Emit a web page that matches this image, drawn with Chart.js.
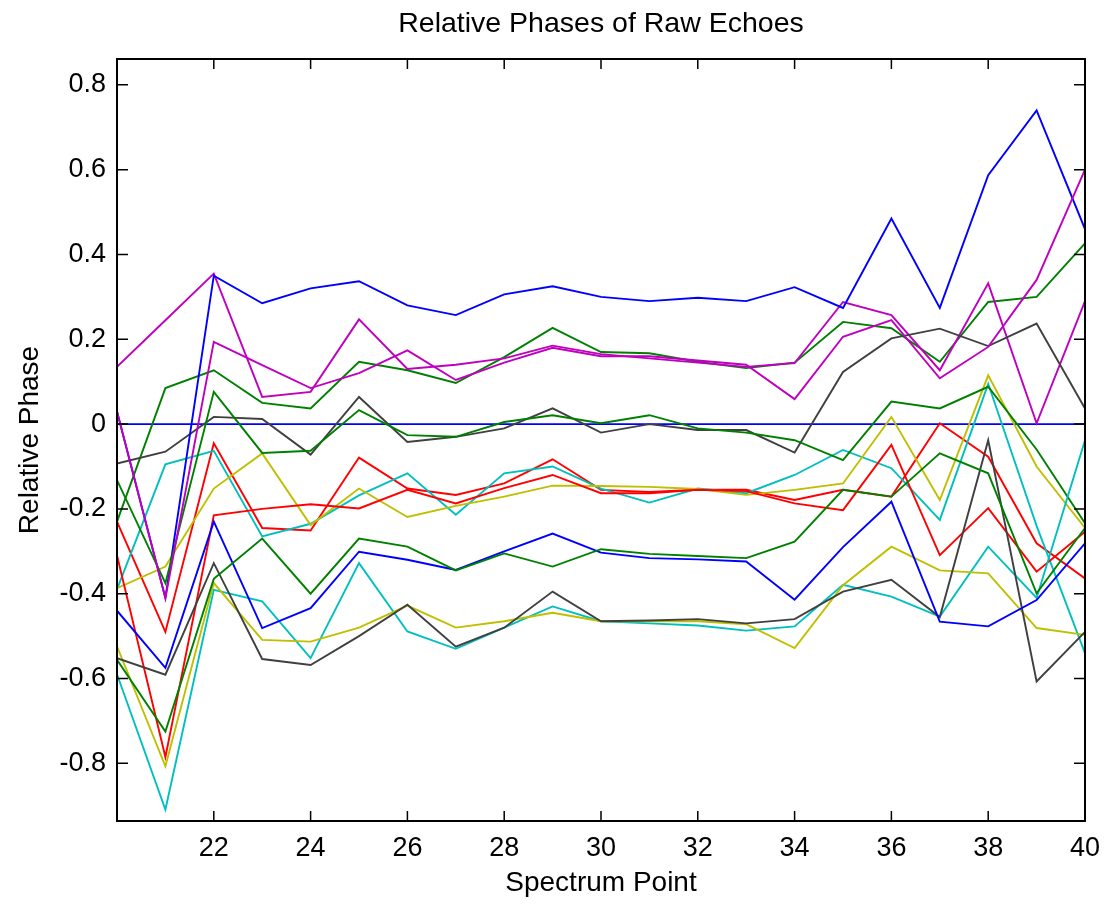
<!DOCTYPE html>
<html>
<head>
<meta charset="utf-8">
<title>Relative Phases of Raw Echoes</title>
<script src="https://cdn.jsdelivr.net/npm/chart.js@4/dist/chart.umd.min.js"></script>
<style>
  html, body { margin: 0; padding: 0; background: #fff; }
</style>
</head>
<body>
<canvas id="phaseChart" width="1105" height="905"></canvas>
<script>
// spectrum points on the x axis
const spectrumPoints = [20, 21, 22, 23, 24, 25, 26, 27, 28, 29, 30, 31, 32, 33, 34, 35, 36, 37, 38, 39, 40];
const xTicks = [22, 24, 26, 28, 30, 32, 34, 36, 38, 40];
const yTicks = [-0.8, -0.6, -0.4, -0.2, 0, 0.2, 0.4, 0.6, 0.8];

// relative phase of each echo
const refZero  = [0, 0, 0, 0, 0, 0, 0, 0, 0, 0, 0, 0, 0, 0, 0, 0, 0, 0, 0, 0, 0];
const blueTop  = [0.03, -0.41, 0.35, 0.285, 0.32, 0.337, 0.28, 0.257, 0.306, 0.325, 0.30, 0.29, 0.298, 0.29, 0.323, 0.274, 0.485, 0.274, 0.587, 0.74, 0.46];
const greenTop = [-0.23, 0.085, 0.127, 0.05, 0.037, 0.147, 0.127, 0.097, 0.158, 0.227, 0.17, 0.167, 0.147, 0.132, 0.145, 0.241, 0.226, 0.147, 0.288, 0.30, 0.426];
const redA     = [-0.23, -0.49, -0.045, -0.245, -0.251, -0.079, -0.152, -0.167, -0.14, -0.083, -0.155, -0.16, -0.155, -0.155, -0.179, -0.155, -0.171, 0.002, -0.077, -0.281, -0.364];
const cyanA    = [-0.39, -0.095, -0.063, -0.265, -0.235, -0.168, -0.116, -0.214, -0.116, -0.1, -0.152, -0.185, -0.152, -0.163, -0.12, -0.061, -0.104, -0.226, 0.095, -0.24, -0.54];
const magentaA = [0.135, 0.245, 0.355, 0.064, 0.076, 0.247, 0.13, 0.14, 0.155, 0.185, 0.165, 0.155, 0.145, 0.135, 0.144, 0.288, 0.257, 0.127, 0.332, 0.002, 0.29];
const yellowA  = [-0.387, -0.336, -0.152, -0.069, -0.238, -0.152, -0.219, -0.193, -0.171, -0.145, -0.146, -0.148, -0.153, -0.167, -0.155, -0.14, 0.017, -0.179, 0.115, -0.1, -0.245];
const grayA    = [-0.093, -0.065, 0.017, 0.012, -0.072, 0.064, -0.042, -0.03, -0.01, 0.037, -0.02, 0.0, -0.014, -0.014, -0.067, 0.123, 0.202, 0.225, 0.184, 0.237, 0.037];
const blueMid  = [-0.44, -0.575, -0.23, -0.481, -0.434, -0.301, -0.32, -0.344, -0.30, -0.258, -0.303, -0.316, -0.319, -0.324, -0.414, -0.29, -0.183, -0.466, -0.477, -0.415, -0.281];
const greenMid = [-0.132, -0.375, 0.076, -0.068, -0.063, 0.033, -0.026, -0.03, 0.005, 0.021, 0.002, 0.021, -0.01, -0.02, -0.038, -0.085, 0.053, 0.037, 0.088, -0.06, -0.234];
const redB     = [-0.31, -0.785, -0.215, -0.2, -0.189, -0.199, -0.155, -0.187, -0.151, -0.12, -0.163, -0.163, -0.155, -0.158, -0.187, -0.203, -0.049, -0.309, -0.198, -0.348, -0.254];
const cyanB    = [-0.59, -0.909, -0.391, -0.418, -0.552, -0.328, -0.489, -0.53, -0.48, -0.43, -0.465, -0.47, -0.475, -0.487, -0.477, -0.379, -0.407, -0.454, -0.289, -0.41, -0.038];
const magentaB = [0.03, -0.41, 0.194, 0.139, 0.085, 0.12, 0.174, 0.104, 0.145, 0.18, 0.16, 0.16, 0.15, 0.14, 0.059, 0.206, 0.245, 0.108, 0.182, 0.34, 0.60];
const yellowB  = [-0.524, -0.807, -0.375, -0.509, -0.513, -0.48, -0.428, -0.48, -0.465, -0.445, -0.465, -0.465, -0.465, -0.472, -0.528, -0.38, -0.289, -0.345, -0.352, -0.481, -0.497];
const grayB    = [-0.552, -0.591, -0.328, -0.554, -0.568, -0.5, -0.426, -0.525, -0.48, -0.395, -0.465, -0.463, -0.46, -0.47, -0.46, -0.395, -0.367, -0.455, -0.038, -0.607, -0.49];
const greenLow = [-0.556, -0.725, -0.365, -0.27, -0.40, -0.27, -0.289, -0.345, -0.305, -0.336, -0.295, -0.306, -0.311, -0.316, -0.277, -0.155, -0.171, -0.069, -0.116, -0.399, -0.245];

// matlab style colour order
const BLUE = '#0000ff', GREEN = '#008000', RED = '#ff0000', CYAN = '#00bfbf',
      MAGENTA = '#bf00bf', YELLOW = '#bfbf00', GRAY = '#404040';

const series = [
    [refZero, BLUE], [greenTop, GREEN], [redA, RED], [cyanA, CYAN], [magentaA, MAGENTA],
    [yellowA, YELLOW], [grayA, GRAY], [blueTop, BLUE], [greenMid, GREEN], [redB, RED],
    [cyanB, CYAN], [magentaB, MAGENTA], [yellowB, YELLOW], [grayB, GRAY], [blueMid, BLUE],
    [greenLow, GREEN]
];

const FAMILY = '"Liberation Sans", Arial, sans-serif';
const TICK_FONT = { family: FAMILY, size: 27 };
const LABEL_FONT = { family: FAMILY, size: 28 };

// inward tick marks on all four sides plus the box
const insideTicks = {
    id: 'insideTicks',
    afterDatasetsDraw(chart) {
        const { ctx, chartArea: a, scales: { x, y } } = chart;
        ctx.save();
        ctx.strokeStyle = '#000';
        ctx.lineWidth = 1.5;
        ctx.beginPath();
        xTicks.forEach(v => {
            const px = x.getPixelForValue(v);
            ctx.moveTo(px, a.bottom); ctx.lineTo(px, a.bottom - 10);
            ctx.moveTo(px, a.top); ctx.lineTo(px, a.top + 10);
        });
        yTicks.forEach(v => {
            const py = y.getPixelForValue(v);
            ctx.moveTo(a.left, py); ctx.lineTo(a.left + 11, py);
            ctx.moveTo(a.right, py); ctx.lineTo(a.right - 11, py);
        });
        ctx.stroke();
        ctx.lineWidth = 2;
        ctx.strokeRect(a.left, a.top, a.right - a.left, a.bottom - a.top);
        ctx.restore();
    }
};

new Chart(document.getElementById('phaseChart'), {
    type: 'line',
    data: {
        datasets: series.map(([vals, color], i) => ({
            data: vals.map((v, j) => ({ x: spectrumPoints[j], y: v })),
            borderColor: color,
            borderWidth: 1.9,
            pointRadius: 0,
            tension: 0,
            fill: false,
            order: series.length - i
        }))
    },
    options: {
        responsive: false,
        animation: false,
        layout: { padding: { left: 0, right: 20, top: 0, bottom: 0 } },
        plugins: {
            legend: { display: false },
            tooltip: { enabled: false },
            title: {
                display: true,
                text: 'Relative Phases of Raw Echoes',
                color: '#000',
                fullSize: false,
                font: { family: FAMILY, size: 28.5, weight: 'normal' },
                padding: { top: 7.4, bottom: 17.4 }
            }
        },
        scales: {
            x: {
                type: 'linear',
                min: 20,
                max: 40,
                afterBuildTicks: s => { s.ticks = xTicks.map(v => ({ value: v })); },
                afterFit: s => { s.height = 84; s.paddingLeft = 0; s.paddingRight = 20; },
                grid: { display: false, drawTicks: false },
                border: { display: false },
                ticks: { color: '#000', font: TICK_FONT, padding: 11, maxRotation: 0 },
                title: {
                    display: true, text: 'Spectrum Point', color: '#000', font: LABEL_FONT,
                    padding: { top: 0, bottom: 5.2 }
                }
            },
            y: {
                type: 'linear',
                min: -0.936,
                max: 0.861,
                afterBuildTicks: s => { s.ticks = yTicks.map(v => ({ value: v })); },
                afterFit: s => { s.width = 117; },
                grid: { display: false, drawTicks: false },
                border: { display: false },
                ticks: {
                    color: '#000', font: TICK_FONT, padding: 11,
                    callback: v => String(Number(v.toFixed(1)))
                },
                title: {
                    display: true, text: 'Relative Phase', color: '#000', font: LABEL_FONT,
                    padding: { top: 13.2, bottom: 0 }
                }
            }
        }
    },
    plugins: [insideTicks]
});
</script>
</body>
</html>
